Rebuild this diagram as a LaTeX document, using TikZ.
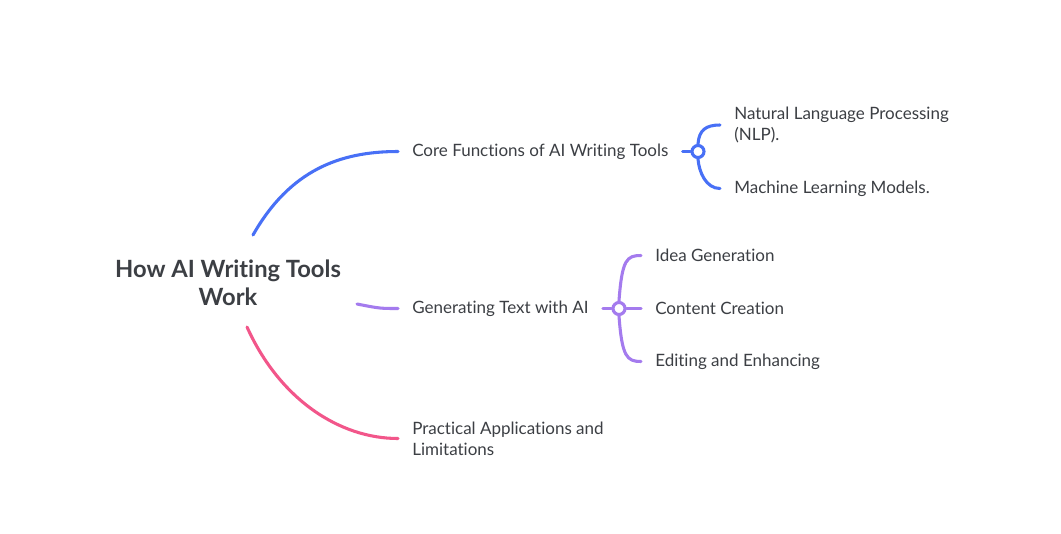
\documentclass[tikz,border=0pt]{standalone}
\usepackage{fontspec}
\setmainfont{Lato}[Ligatures=NoCommon]
\usetikzlibrary{positioning}

\definecolor{coreblue}{HTML}{4870F6}
\definecolor{genpurple}{HTML}{A47BEE}
\definecolor{usepink}{HTML}{F2568A}
\definecolor{inktext}{HTML}{3C3F44}

\begin{document}
\begin{tikzpicture}[
    x=0.75pt, y=-0.75pt,
    topic/.style={
        font=\bfseries\fontsize{17.8}{21}\selectfont,
        text=inktext,
        align=center,
        inner sep=0pt
    },
    leaf/.style={
        anchor=west,
        font=\fontsize{12.75}{15.75}\selectfont,
        text=inktext,
        align=left,
        inner xsep=10.5pt,
        inner ysep=0pt
    },
    limb/.style={
        line width=2.3pt,
        line cap=round
    },
    joint/.style={
        circle,
        draw=#1,
        fill=white,
        line width=2.3pt,
        minimum size=9pt,
        inner sep=0pt
    }
]

    \useasboundingbox [fill=white] (0,0) rectangle (1061,533);

    % root
    \node (root) [topic] at (228,283) {How AI Writing Tools\\Work};

    \coordinate (r1) at (253,235);
    \coordinate (r2) at (357,304);
    \coordinate (r3) at (247,327);

    % first level
    \node (core) [leaf] at (398,151.5) {Core Functions of AI Writing Tools};
    \node (gen)  [leaf] at (398,308.5) {Generating Text with AI};
    \node (use)  [leaf] at (398,438.5) {Practical Applications and\\Limitations};

    % second level
    \node (nlp) [leaf] at (720,125) {Natural Language Processing\\(NLP).};
    \node (ml)  [leaf] at (720,188.5) {Machine Learning Models.};

    \node (idea) [leaf] at (641,255.5) {Idea Generation};
    \node (cont) [leaf] at (641,308.5) {Content Creation};
    \node (edit) [leaf] at (641,361.5) {Editing and Enhancing};

    % junctions
    \node (jcore) [joint=coreblue] at (698,151.5) {};
    \node (jgen)  [joint=genpurple] at (619,308.5) {};

    % root branches
    \draw [limb, coreblue] (r1) .. controls (290,170) and (340,151.5) .. (core.west);
    \draw [limb, genpurple] (r2) .. controls (380,308.5) .. (gen.west);
    \draw [limb, usepink] (r3) .. controls (280,400) and (340,438.5) .. (use.west);

    % blue sub-branches
    \draw [limb, coreblue] (core.east) -- (jcore.west);
    \draw [limb, coreblue] (jcore.north) .. controls (699,130) and (706,125) .. (nlp.west);
    \draw [limb, coreblue] (jcore.south) .. controls (699,172) and (706,188.5) .. (ml.west);

    % purple sub-branches
    \draw [limb, genpurple] (gen.east) -- (jgen.west);
    \draw [limb, genpurple] (jgen.north) .. controls (622,259) and (627,255.5) .. (idea.west);
    \draw [limb, genpurple] (jgen.east) -- (cont.west);
    \draw [limb, genpurple] (jgen.south) .. controls (622,357) and (627,361.5) .. (edit.west);

\end{tikzpicture}
\end{document}
